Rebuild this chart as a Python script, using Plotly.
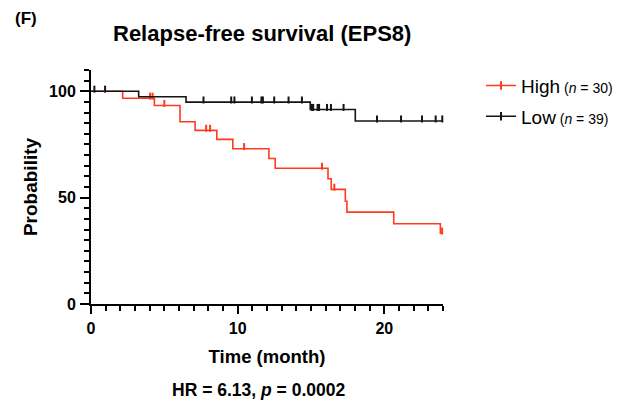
import numpy as np
import plotly.graph_objects as go

# ---- data ----
high_event_times = [2.16, 4.32, 6.07, 7.1, 8.58, 9.67, 12.13, 12.56, 16.16, 16.38, 17.34, 17.45, 20.64, 23.82]
high_levels = [96.7, 93.3, 85.7, 81.6, 77.4, 73.0, 68.4, 63.8, 58.9, 53.9, 48.3, 43.2, 37.7, 33.3]
high_censor_times = [4.03, 4.2, 5.0, 7.85, 8.12, 10.44, 15.75, 16.59, 23.94]

low_event_times = [3.25, 6.48, 14.95, 18.02]
low_levels = [97.4, 94.9, 91.4, 86.0]
low_censor_times = [0.23, 0.96, 7.67, 9.56, 9.78, 10.97, 11.62, 11.72, 12.49, 13.47, 14.38,
                    15.06, 15.15, 15.45, 15.55, 16.09, 16.36, 17.22, 19.5, 21.14, 22.57, 23.5, 23.95]

x_end = 24
y_end = 110
x_major_ticks = [0, 10, 20]
y_major_ticks = [0, 50, 100]
x_minor_step = 1
y_minor_step = 5

RED = "rgb(255,58,30)"
BLACK = "rgb(20,20,20)"
FONT = "Liberation Sans, Arial, sans-serif"


def step_xy(times, levels):
    xs = [0] + list(times) + [x_end]
    ys = [100] + list(levels) + [levels[-1]]
    return xs, ys


def surv_at(t, times, levels):
    idx = np.searchsorted(np.array(times), np.array(t), side="right")
    full = np.concatenate([[100.0], np.array(levels)])
    return full[idx]


fig = go.Figure()

for name, n, times, levels, cens, col in [
    ("High", 30, high_event_times, high_levels, high_censor_times, RED),
    ("Low", 39, low_event_times, low_levels, low_censor_times, BLACK),
]:
    xs, ys = step_xy(times, levels)
    fig.add_trace(go.Scatter(x=xs, y=ys, mode="lines", line=dict(color=col, width=1.6, shape="hv"),
                             showlegend=False, hoverinfo="skip"))
    cy = surv_at(cens, times, levels) + 1.0
    fig.add_trace(go.Scatter(x=cens, y=cy, mode="markers", cliponaxis=False,
                             marker=dict(symbol="line-ns", size=5, line=dict(color=col, width=2)),
                             showlegend=False, hoverinfo="skip"))
    label = f"{name}<span style='font-size:14px'> (<i>n</i> = {n})</span>"
    fig.add_trace(go.Scatter(x=[None], y=[None], mode="lines+markers", name=label,
                             legendgroup=name,
                             line=dict(color=col, width=1.6),
                             marker=dict(symbol="line-ns", size=6, line=dict(color=col, width=2))))

# invisible trace on overlay axes that carry the long major ticks
fig.add_trace(go.Scatter(x=[None], y=[None], xaxis="x2", yaxis="y2", showlegend=False, hoverinfo="skip"))

x_minor_vals = list(range(0, x_end + 1, x_minor_step))
y_minor_vals = list(range(0, y_end + 1, y_minor_step))
x_minor_text = [str(v) if v in x_major_ticks else "" for v in x_minor_vals]
y_minor_text = [str(v) if v in y_major_ticks else "" for v in y_minor_vals]

common = dict(showgrid=False, zeroline=False, tickcolor="black", tickwidth=2, automargin=False)

fig.update_layout(
    width=637, height=408,
    margin=dict(l=91, r=194, t=70, b=104, autoexpand=False),
    plot_bgcolor="white", paper_bgcolor="white",
    font=dict(family=FONT, color="black"),
    showlegend=True,
    legend=dict(x=1.108, y=1.014, xanchor="left", yanchor="top", tracegroupgap=3,
                font=dict(family=FONT, size=19, color="black"), bgcolor="rgba(0,0,0,0)"),
    xaxis=dict(range=[0, x_end], showline=True, linecolor="black", linewidth=2,
               ticks="outside", ticklen=5, tickmode="array",
               tickvals=x_minor_vals, ticktext=x_minor_text, ticklabelstandoff=4,
               tickfont=dict(family=FONT, size=16, weight="bold"),
               title=dict(text="Time (month)", font=dict(family=FONT, size=18.5, weight="bold"), standoff=14),
               **common),
    yaxis=dict(range=[0, y_end], showline=True, linecolor="black", linewidth=2,
               ticks="outside", ticklen=5, tickmode="array",
               tickvals=y_minor_vals, ticktext=y_minor_text, ticklabelstandoff=5,
               tickfont=dict(family=FONT, size=16, weight="bold"),
               title=dict(text="Probability", font=dict(family=FONT, size=19, weight="bold"), standoff=6),
               **common),
    xaxis2=dict(range=[0, x_end], overlaying="x", anchor="y2", side="bottom", showline=False,
                ticks="outside", ticklen=9, tickmode="array", tickvals=x_major_ticks,
                showticklabels=False, **common),
    yaxis2=dict(range=[0, y_end], overlaying="y", anchor="x2", side="left", showline=False,
                ticks="outside", ticklen=10, tickmode="array", tickvals=y_major_ticks,
                showticklabels=False, **common),
)

fig.add_annotation(text="Relapse-free survival (EPS8)", xref="paper", yref="paper",
                   x=0.485, y=1.0, yshift=37, showarrow=False, xanchor="center", yanchor="middle",
                   font=dict(family=FONT, size=22, weight="bold"))
fig.add_annotation(text="(F)", xref="paper", yref="paper", x=-0.185, y=1.0, yshift=52,
                   showarrow=False, xanchor="center", yanchor="middle",
                   font=dict(family=FONT, size=17, weight="bold"))
fig.add_annotation(text="HR = 6.13, <i>p</i> = 0.0002", xref="paper", yref="paper",
                   x=0.475, y=0.0, yshift=-86, showarrow=False, xanchor="center", yanchor="middle",
                   font=dict(family=FONT, size=17.5, weight="bold"))

fig.write_html("out.html", config={"displayModeBar": False},
               post_script="document.body.style.margin='0';")
